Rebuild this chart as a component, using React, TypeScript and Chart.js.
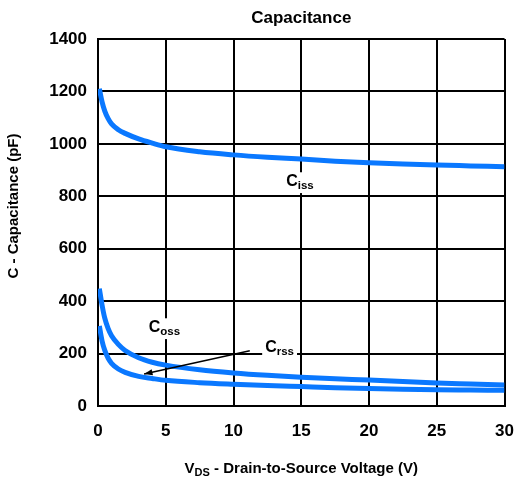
import React, { useEffect, useRef } from "react";
import { Chart, registerables } from "chart.js";

Chart.register(...registerables);

const vds = [0.1, 0.3, 0.5, 0.75, 1, 1.5, 2, 3, 4, 5, 7.5, 10, 12.5, 15, 17.5, 20, 22.5, 25, 27.5, 30];
const ciss = [1210, 1160, 1125, 1096, 1076, 1054, 1040, 1019, 1003, 989, 970, 958, 949, 942, 934, 928, 923, 919, 916, 913];
const coss = [448, 385, 335, 295, 268, 235, 212, 184, 167, 156, 138, 126, 117, 110, 104, 99, 93, 88, 84, 80];
const crss = [305, 248, 212, 182, 163, 141, 128, 113, 105, 98, 89, 83, 78, 74, 70, 67, 64, 62, 61, 60];

const xTicks = [0, 5, 10, 15, 20, 25, 30];
const yTicks = [0, 200, 400, 600, 800, 1000, 1200, 1400];

const chartTitle = "Capacitance";
const yTitle = "C - Capacitance (pF)";
const xTitleMain = "V";
const xTitleSub = "DS";
const xTitleRest = " - Drain-to-Source Voltage (V)";

// curve labels: [main, sub, x, y]
const curveLabels: [string, string, number, number][] = [
  ["C", "iss", 14.9, 855],
  ["C", "oss", 4.9, 298],
  ["C", "rss", 13.4, 221],
];
// arrow from -> to (data coords)
const arrowFrom = [11.2, 211];
const arrowTo = [3.4, 122];

const FONT = '"Liberation Sans", Arial, Helvetica, sans-serif';
const BLUE = "#0a78ff";

function drawSubText(ctx: CanvasRenderingContext2D, main: string, sub: string, cx: number, cy: number, size: number, bg: boolean) {
  ctx.save();
  ctx.font = `bold ${size}px ${FONT}`;
  const w1 = ctx.measureText(main).width;
  ctx.font = `bold ${size * 0.72}px ${FONT}`;
  const w2 = ctx.measureText(sub).width;
  const total = w1 + w2;
  const x0 = cx - total / 2;
  if (bg) {
    ctx.fillStyle = "#fff";
    ctx.fillRect(x0 - 3, cy - size * 0.6, total + 6, size * 1.3);
  }
  ctx.fillStyle = "#000";
  ctx.textBaseline = "middle";
  ctx.textAlign = "left";
  ctx.font = `bold ${size}px ${FONT}`;
  ctx.fillText(main, x0, cy);
  ctx.font = `bold ${size * 0.72}px ${FONT}`;
  ctx.fillText(sub, x0 + w1, cy + size * 0.25);
  ctx.restore();
}

const textPlugin = {
  id: "textPlugin",
  afterDraw(chart: any) {
    const { ctx, chartArea, scales } = chart;
    const xs = scales.x;
    const ys = scales.y;
    const cx = (chartArea.left + chartArea.right) / 2;
    ctx.save();
    ctx.fillStyle = "#000";
    ctx.textAlign = "center";
    ctx.textBaseline = "middle";
    ctx.font = `bold 17px ${FONT}`;
    ctx.fillText(chartTitle, cx, 18);

    // y title
    ctx.save();
    ctx.translate(14, 206);
    ctx.rotate(-Math.PI / 2);
    ctx.font = `bold 15px ${FONT}`;
    ctx.fillText(yTitle, 0, 0);
    ctx.restore();

    // x title with subscript
    ctx.font = `bold 15px ${FONT}`;
    const wa = ctx.measureText(xTitleMain).width;
    const wc = ctx.measureText(xTitleRest).width;
    ctx.font = `bold 11px ${FONT}`;
    const wb = ctx.measureText(xTitleSub).width;
    const tot = wa + wb + wc;
    const x0 = cx - tot / 2;
    const ty = 469;
    ctx.textAlign = "left";
    ctx.font = `bold 15px ${FONT}`;
    ctx.fillText(xTitleMain, x0, ty);
    ctx.font = `bold 11px ${FONT}`;
    ctx.fillText(xTitleSub, x0 + wa, ty + 4);
    ctx.font = `bold 15px ${FONT}`;
    ctx.fillText(xTitleRest, x0 + wa + wb, ty);

    // arrow
    const ax1 = xs.getPixelForValue(arrowFrom[0]);
    const ay1 = ys.getPixelForValue(arrowFrom[1]);
    const ax2 = xs.getPixelForValue(arrowTo[0]);
    const ay2 = ys.getPixelForValue(arrowTo[1]);
    ctx.strokeStyle = "#000";
    ctx.lineWidth = 1.5;
    ctx.beginPath();
    ctx.moveTo(ax1, ay1);
    ctx.lineTo(ax2, ay2);
    ctx.stroke();
    const ang = Math.atan2(ay2 - ay1, ax2 - ax1);
    const hl = 9;
    ctx.fillStyle = "#000";
    ctx.beginPath();
    ctx.moveTo(ax2, ay2);
    ctx.lineTo(ax2 - hl * Math.cos(ang - 0.35), ay2 - hl * Math.sin(ang - 0.35));
    ctx.lineTo(ax2 - hl * Math.cos(ang + 0.35), ay2 - hl * Math.sin(ang + 0.35));
    ctx.closePath();
    ctx.fill();
    ctx.restore();

    for (const [m, s, vx, vy] of curveLabels) {
      drawSubText(ctx, m, s, xs.getPixelForValue(vx), ys.getPixelForValue(vy), 16, true);
    }
  },
};

export default function App() {
  const ref = useRef<HTMLCanvasElement | null>(null);
  useEffect(() => {
    if (!ref.current) return;
    const mk = (d: number[]) => vds.map((x, i) => ({ x, y: d[i] }));
    const ds = (label: string, d: number[]) => ({
      label,
      data: mk(d),
      borderColor: BLUE,
      backgroundColor: BLUE,
      borderWidth: 5,
      pointRadius: 0,
      cubicInterpolationMode: "monotone" as const,
      fill: false,
    });
    const chart = new Chart(ref.current, {
      type: "line",
      data: {
        datasets: [ds("Ciss", ciss), ds("Coss", coss), ds("Crss", crss)],
      },
      options: {
        animation: false,
        responsive: false,
        layout: { padding: { top: 39, right: 12, left: 0, bottom: 0 } },
        plugins: {
          legend: { display: false },
          tooltip: { enabled: false },
          title: { display: false },
        },
        scales: {
          x: {
            type: "linear",
            min: 0,
            max: 30,
            afterBuildTicks: (s: any) => {
              s.ticks = xTicks.map((v) => ({ value: v }));
            },
            afterFit: (s: any) => {
              s.height = 75;
            },
            ticks: {
              color: "#000",
              font: { family: FONT, size: 17, weight: "bold" },
              padding: 15,
              maxRotation: 0,
              callback: (v: any) => String(v),
            },
            grid: { color: "#000", lineWidth: 2, drawTicks: false },
            border: { color: "#000", width: 2 },
          },
          y: {
            type: "linear",
            min: 0,
            max: 1400,
            afterBuildTicks: (s: any) => {
              s.ticks = yTicks.map((v) => ({ value: v }));
            },
            afterFit: (s: any) => {
              s.width = 98;
            },
            ticks: {
              color: "#000",
              font: { family: FONT, size: 17, weight: "bold" },
              padding: 11,
              callback: (v: any) => String(v),
            },
            grid: { color: "#000", lineWidth: 2, drawTicks: false },
            border: { color: "#000", width: 2 },
          },
        },
      },
      plugins: [textPlugin],
    });
    return () => chart.destroy();
  }, []);
  return (
    <div style={{ position: "absolute", left: 0, top: 0, width: 529, height: 481, background: "#fff" }}>
      <canvas ref={ref} width={529} height={481} style={{ display: "block" }} />
    </div>
  );
}
